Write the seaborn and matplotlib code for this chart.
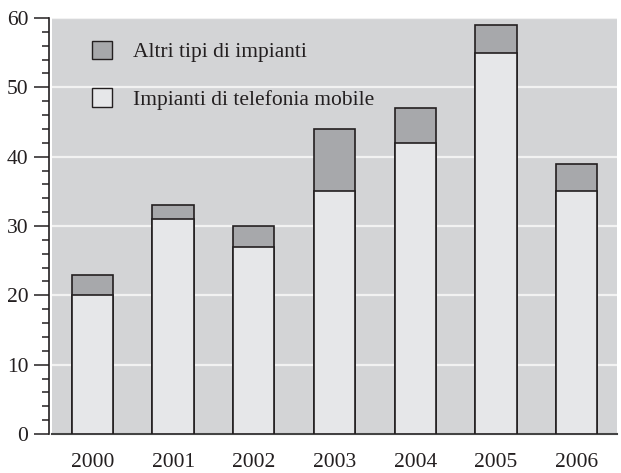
import matplotlib
matplotlib.use("Agg")
import matplotlib.pyplot as plt
import seaborn as sns
import pandas as pd
import numpy as np
from matplotlib.patches import Patch
from matplotlib.ticker import MultipleLocator

years = ["2000", "2001", "2002", "2003", "2004", "2005", "2006"]
mobile = [20, 31, 27, 35, 42, 55, 35]
altri = [3, 2, 3, 9, 5, 4, 4]

df = pd.DataFrame({"anno": years, "mobile": mobile, "altri": altri})
df["totale"] = df["mobile"] + df["altri"]

sns.set_theme(style="white")
plt.rcParams["font.family"] = ["Liberation Serif", "DejaVu Serif"]

bg = "#d3d4d6"
c_light = "#e6e7e9"
c_dark = "#a7a8ab"
edge = "#231f20"

fig = plt.figure(figsize=(6.21, 4.73), dpi=100)
ax = fig.add_axes([52/621, 1 - 434/473, (617-52)/621, (434-18)/473])
ax.set_facecolor(bg)

sns.barplot(data=df, x="anno", y="totale", color=c_dark, edgecolor=edge,
            linewidth=1.2, width=0.51, saturation=1, ax=ax, zorder=3)
sns.barplot(data=df, x="anno", y="mobile", color=c_light, edgecolor=edge,
            linewidth=1.2, width=0.51, saturation=1, ax=ax, zorder=4)

ax.set_xlim(-0.5, 6.5)
ax.set_ylim(0, 60)
ax.yaxis.set_major_locator(MultipleLocator(10))
ax.yaxis.set_minor_locator(MultipleLocator(2))
ax.set_axisbelow(True)
ax.grid(axis="y", which="major", color="#f2f2f2", linewidth=1.6, zorder=1)
ax.grid(axis="x", visible=False)

for s in ["top", "right"]:
    ax.spines[s].set_visible(False)
ax.spines["left"].set_color(edge)
ax.spines["left"].set_linewidth(1.2)
ax.spines["left"].set_position(("outward", 2))
ax.spines["bottom"].set_color("#444444")
ax.spines["bottom"].set_linewidth(1.5)

ax.tick_params(axis="y", which="major", direction="out", length=11, width=1.1,
               color=edge, labelsize=15.5, pad=4, left=True)
ax.tick_params(axis="y", which="minor", direction="out", length=5, width=1.1,
               color=edge, left=True)
ax.tick_params(axis="x", which="both", length=0, labelsize=15.5, pad=14)
ax.set_xlabel("")
ax.set_ylabel("")
for lab in ax.get_xticklabels() + ax.get_yticklabels():
    lab.set_color("#231f20")

handles = [Patch(facecolor=c_dark, edgecolor=edge, linewidth=1.0, label="Altri tipi di impianti"),
           Patch(facecolor=c_light, edgecolor=edge, linewidth=1.0, label="Impianti di telefonia mobile")]
leg = ax.legend(handles=handles, loc="upper left", bbox_to_anchor=(0.071, 0.945),
                frameon=False, fontsize=15.5, handlelength=0.93, handleheight=0.93,
                handletextpad=0.95, labelspacing=1.2, borderpad=0, borderaxespad=0)
for t in leg.get_texts():
    t.set_color("#231f20")

fig.savefig("out.png", dpi=100)
